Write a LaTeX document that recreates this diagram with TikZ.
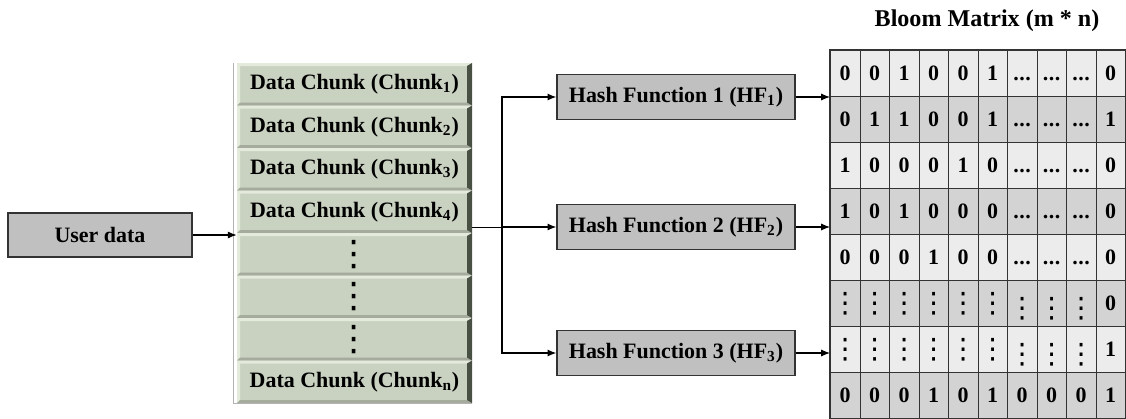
\documentclass[tikz,border=0pt]{standalone}
\usepackage{fontspec}
\setmainfont{Liberation Serif}
\newfontfamily\dotsfont{DejaVu Sans}
\usetikzlibrary{arrows.meta,positioning}

\definecolor{boxgray}{RGB}{192,192,192}
\definecolor{chunkface}{RGB}{201,209,193}
\definecolor{chunklight}{RGB}{228,234,220}
\definecolor{chunkmid}{RGB}{165,172,158}
\definecolor{chunkdark}{RGB}{72,80,68}
\definecolor{rowA}{RGB}{236,236,236}
\definecolor{rowB}{RGB}{211,211,211}
\newcommand\pxu{0.02cm}
% vertical and horizontal dots
\newcommand\vdotsb[1]{{\dotsfont\mdseries\fontsize{#1}{#1}\selectfont ⋮}}
\newcommand\lowdots{\raisebox{-3pt}[\height][\depth]{\vdotsb{16}}}
\newcommand\hdotsb{\vphantom{0}.\kern0.3pt.\kern0.3pt.}

\begin{document}
\begin{tikzpicture}[x=0.02cm, y=-0.02cm, font=\bfseries\fontsize{12.5}{14}\selectfont,
    arr/.style={-{Latex[length=5pt,width=4pt]}, semithick},
    plainbox/.style={draw=black!80, thick, fill=boxgray, inner sep=0pt},
    chunk/.style={minimum width=235*\pxu, minimum height=42.5*\pxu, inner sep=0pt, fill=chunkface,
      path picture={
        \coordinate (nw) at (path picture bounding box.north west);
        \coordinate (ne) at (path picture bounding box.north east);
        \coordinate (sw) at (path picture bounding box.south west);
        \coordinate (se) at (path picture bounding box.south east);
        \fill[chunklight] (nw) -- (ne) -- ([xshift=-0.1cm,yshift=-0.06cm]ne) -- ([xshift=0.06cm,yshift=-0.06cm]nw) -- cycle;
        \fill[chunklight] (nw) -- (sw) -- ([xshift=0.06cm,yshift=0.06cm]sw) -- ([xshift=0.06cm,yshift=-0.06cm]nw) -- cycle;
        \fill[chunkmid] (sw) -- (se) -- ([xshift=-0.1cm,yshift=0.06cm]se) -- ([xshift=0.06cm,yshift=0.06cm]sw) -- cycle;
        \fill[chunkdark] (ne) -- (se) -- ([xshift=-0.1cm,yshift=0.06cm]se) -- ([xshift=-0.1cm,yshift=-0.06cm]ne) -- cycle;
      }},
    cell/.style={draw=black!80, inner sep=0pt, minimum width=29.5*\pxu, minimum height=46*\pxu, anchor=north west}]

  \useasboundingbox (0,0) rectangle (1126,419);

  % user data
  \node[plainbox, minimum width=184*\pxu, minimum height=44*\pxu] (user) at (100,235) {User data};

  % data chunks
  \foreach \txt [count=\i] in {Data Chunk (Chunk\textsubscript{1}), Data Chunk (Chunk\textsubscript{2}),
      Data Chunk (Chunk\textsubscript{3}), Data Chunk (Chunk\textsubscript{4}), \vdotsb{20}, \vdotsb{20},
      \vdotsb{20}, Data Chunk (Chunk\textsubscript{n})}
    \node[chunk] (c\i) at (354.5,{63+42.5*(\i-0.5)}) {\txt};
  \draw[gray!60] ([xshift=-3*\pxu]c1.north west) -- ([xshift=-3*\pxu]c8.south west) -- (c8.south east);

  % hash functions
  \node[plainbox, minimum width=238*\pxu, minimum height=45*\pxu] (hf1) at (676,97) {Hash Function 1 (HF\textsubscript{1})};
  \node[plainbox, minimum width=238*\pxu, minimum height=45*\pxu] (hf2) at (676,227) {Hash Function 2 (HF\textsubscript{2})};
  \node[plainbox, minimum width=238*\pxu, minimum height=45*\pxu] (hf3) at (676,353) {Hash Function 3 (HF\textsubscript{3})};

  % user data -> chunks -> hash functions
  \draw[arr] (user) -- (user -| c1.west);
  \coordinate (split) at (502,227);
  \draw (c4.east |- split) -- (split);
  \draw[arr] (split) |- (hf1);
  \draw[arr] (split) -- (hf2);
  \draw[arr] (split) |- (hf3);

  % bloom matrix
  \node[font=\bfseries\fontsize{13.7}{16}\selectfont] (title) at (987,21) {Bloom Matrix (m * n)};
  \foreach \vals [count=\r] in {{0,0,1,0,0,1,\hdotsb,\hdotsb,\hdotsb,0},
      {0,1,1,0,0,1,\hdotsb,\hdotsb,\hdotsb,1},
      {1,0,0,0,1,0,\hdotsb,\hdotsb,\hdotsb,0},
      {1,0,1,0,0,0,\hdotsb,\hdotsb,\hdotsb,0},
      {0,0,0,1,0,0,\hdotsb,\hdotsb,\hdotsb,0},
      {\vdotsb{16},\vdotsb{16},\vdotsb{16},\vdotsb{16},\vdotsb{16},\vdotsb{16},\lowdots,\lowdots,\lowdots,0},
      {\vdotsb{16},\vdotsb{16},\vdotsb{16},\vdotsb{16},\vdotsb{16},\vdotsb{16},\lowdots,\lowdots,\lowdots,1},
      {0,0,0,1,0,1,0,0,0,1}} {
    \ifodd\r\relax \def\shade{rowA}\else \def\shade{rowB}\fi
    \foreach \v [count=\c] in \vals
      \node[cell, fill=\shade] (m-\r-\c) at ({830+29.5*(\c-1)},{50+46*(\r-1)}) {\v};
  }
  \draw[thick, black!80] (m-1-1.north west) rectangle (m-8-10.south east);

  % hash functions -> matrix rows
  \coordinate (mat) at (830,50);
  \draw[arr] (hf1) -- (hf1 -| mat);
  \draw[arr] (hf2) -- (hf2 -| mat);
  \draw[arr] (hf3) -- (hf3 -| mat);
\end{tikzpicture}
\end{document}
